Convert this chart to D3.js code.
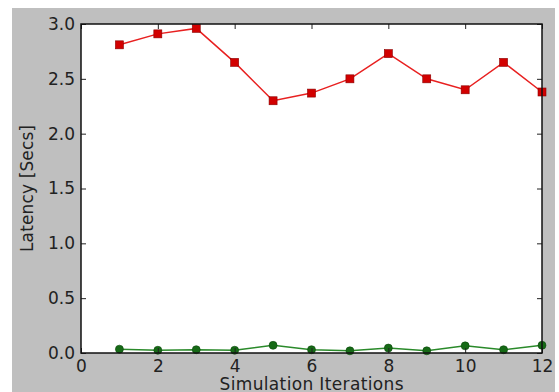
<!DOCTYPE html>
<html>
<head>
<meta charset="utf-8">
<script src="https://cdn.jsdelivr.net/npm/d3@7"></script>
<style>
  html, body { margin: 0; padding: 0; background: #ffffff; }
  svg text { font-family: "DejaVu Sans", sans-serif; fill: #222; }
</style>
</head>
<body>
<div id="chart"></div>
<script>
// Data
const iterations = [1, 2, 3, 4, 5, 6, 7, 8, 9, 10, 11, 12];
const redLatency = [2.81, 2.91, 2.96, 2.65, 2.30, 2.37, 2.50, 2.73, 2.50, 2.40, 2.65, 2.38];
const greenLatency = [0.035, 0.025, 0.03, 0.025, 0.07, 0.03, 0.02, 0.045, 0.02, 0.065, 0.03, 0.07];
const xTicks = [0, 2, 4, 6, 8, 10, 12];
const yTicks = [0.0, 0.5, 1.0, 1.5, 2.0, 2.5, 3.0];

const width = 559, height = 392;
const margin = { top: 24, right: 17, bottom: 39, left: 81 };
const innerW = width - margin.left - margin.right;
const innerH = height - margin.top - margin.bottom;
const fontSize = 17;

const svg = d3.select('#chart')
    .append('svg')
    .attr('width', width)
    .attr('height', height);

// grey figure background
svg.append('rect')
    .attr('x', 12).attr('y', 8)
    .attr('width', 543).attr('height', height - 8)
    .attr('fill', '#bfbfbf');

const g = svg.append('g')
    .attr('transform', `translate(${margin.left},${margin.top})`);

const x = d3.scaleLinear().domain([0, 12]).range([0, innerW]);
const y = d3.scaleLinear().domain([0, 3]).range([innerH, 0]);

g.append('rect')
    .attr('width', innerW).attr('height', innerH)
    .attr('fill', '#ffffff');

// series
const line = d3.line()
    .x((d, i) => x(iterations[i]))
    .y(d => y(d));

g.append('path')
    .datum(redLatency)
    .attr('d', line)
    .attr('fill', 'none')
    .attr('stroke', '#e82020')
    .attr('stroke-width', 1.5);

g.selectAll('.sq')
    .data(redLatency)
    .enter().append('rect')
    .attr('class', 'sq')
    .attr('x', (d, i) => x(iterations[i]) - 4)
    .attr('y', d => y(d) - 4)
    .attr('width', 8).attr('height', 8)
    .attr('fill', '#d20000')
    .attr('stroke', '#8a0000')
    .attr('stroke-width', 0.6);

g.append('path')
    .datum(greenLatency)
    .attr('d', line)
    .attr('fill', 'none')
    .attr('stroke', '#2a8a2a')
    .attr('stroke-width', 1.5);

g.selectAll('.dot')
    .data(greenLatency)
    .enter().append('circle')
    .attr('class', 'dot')
    .attr('cx', (d, i) => x(iterations[i]))
    .attr('cy', d => y(d))
    .attr('r', 4)
    .attr('fill', '#166a16')
    .attr('stroke', '#0c4a0c')
    .attr('stroke-width', 0.6);

// axes: ticks point inward on all four sides
const tickLen = 5;
const tickStyle = sel => {
    sel.select('.domain').remove();
    sel.selectAll('.tick line').attr('stroke', '#222').attr('stroke-width', 1);
};

g.append('g')
    .attr('transform', `translate(0,${innerH})`)
    .call(d3.axisBottom(x).tickValues(xTicks).tickFormat(d3.format('d'))
        .tickSizeInner(-tickLen).tickSizeOuter(0).tickPadding(7))
    .call(tickStyle)
    .call(s => s.selectAll('text').attr('font-size', fontSize).attr('fill', '#222'));

g.append('g')
    .call(d3.axisTop(x).tickValues(xTicks).tickFormat('')
        .tickSizeInner(-tickLen).tickSizeOuter(0))
    .call(tickStyle);

g.append('g')
    .call(d3.axisLeft(y).tickValues(yTicks).tickFormat(d3.format('.1f'))
        .tickSizeInner(-tickLen).tickSizeOuter(0).tickPadding(6))
    .call(tickStyle)
    .call(s => s.selectAll('text').attr('font-size', fontSize).attr('fill', '#222'));

g.append('g')
    .attr('transform', `translate(${innerW},0)`)
    .call(d3.axisRight(y).tickValues(yTicks).tickFormat('')
        .tickSizeInner(-tickLen).tickSizeOuter(0))
    .call(tickStyle);

// frame
g.append('rect')
    .attr('width', innerW).attr('height', innerH)
    .attr('fill', 'none')
    .attr('stroke', '#111')
    .attr('stroke-width', 1.5);

// axis labels
g.append('text')
    .attr('x', innerW / 2)
    .attr('y', innerH + 37)
    .attr('text-anchor', 'middle')
    .attr('font-size', fontSize)
    .attr('textLength', 184)
    .text('Simulation Iterations');

g.append('text')
    .attr('transform', 'rotate(-90)')
    .attr('x', -innerH / 2)
    .attr('y', -48)
    .attr('text-anchor', 'middle')
    .attr('font-size', fontSize)
    .attr('textLength', 127)
    .text('Latency [Secs]');
</script>
</body>
</html>
